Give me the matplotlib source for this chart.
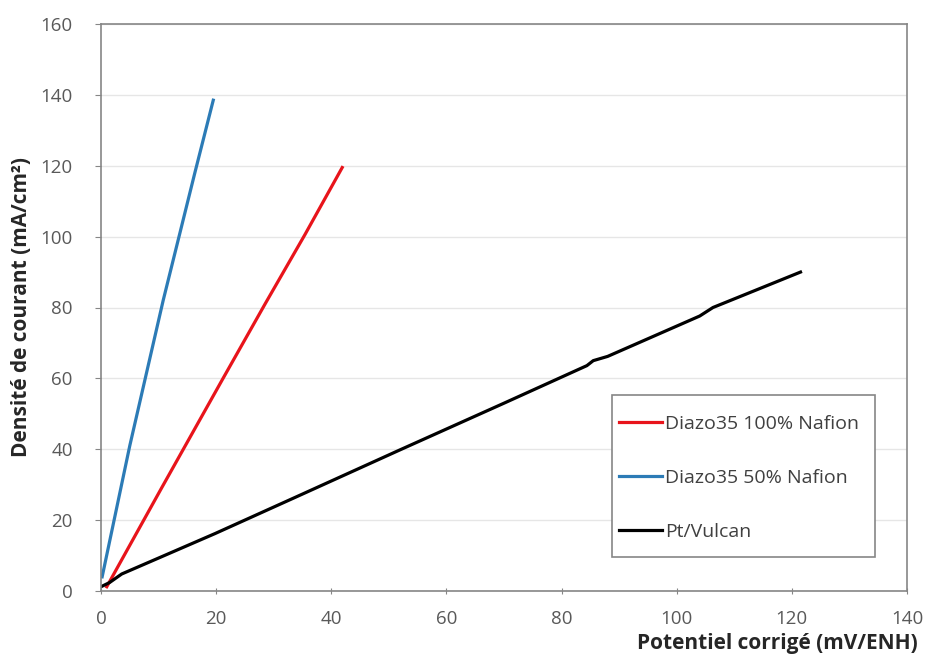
import matplotlib
matplotlib.use("Agg")
import matplotlib.pyplot as plt
from matplotlib.patches import Rectangle

# potentiel corrigé (mV/ENH) vs densité de courant (mA/cm²)
pt_x = [0.0, 1.5, 3.6, 10.0, 19.8, 33.7, 51.9, 70.0, 84.4, 85.5, 88.0, 104.0, 106.3, 121.5]
pt_y = [1.2, 2.4, 4.8, 9.3, 16.2, 26.4, 39.8, 53.0, 63.6, 65.0, 66.2, 77.6, 80.0, 90.0]

d100_x = [1.0, 10.5, 21.2, 28.5, 35.4, 41.9]
d100_y = [1.2, 29.0, 60.0, 81.0, 100.5, 119.5]

d50_x = [0.2, 5.0, 10.8, 16.3, 19.5]
d50_y = [4.0, 41.0, 82.0, 118.0, 138.5]

labels = ["Diazo35 100% Nafion", "Diazo35 50% Nafion", "Pt/Vulcan"]
x_ticks = list(range(0, 141, 20))
y_ticks = list(range(0, 161, 20))

W, H = 926, 662
plt.rcParams["font.family"] = ["Open Sans", "DejaVu Sans"]

fig = plt.figure(figsize=(W / 100, H / 100), dpi=100)
ax = fig.add_axes([101 / W, 1 - 591 / H, 806 / W, 567 / H])

ax.plot(d100_x, d100_y, color="#e8141b", lw=2.3, label=labels[0])
ax.plot(d50_x, d50_y, color="#2c7bb6", lw=2.3, label=labels[1])
ax.plot(pt_x, pt_y, color="black", lw=2.3, label=labels[2])

ax.set_xlim(0, 140)
ax.set_ylim(0, 160)
ax.set_xticks(x_ticks)
ax.set_yticks(y_ticks)
ax.yaxis.grid(True, color="#e6e6e6", lw=1)
ax.set_axisbelow(True)

for side in ["left", "bottom", "top", "right"]:
    ax.spines[side].set_color("#868686")
    ax.spines[side].set_linewidth(1.2)

ax.tick_params(axis="y", direction="out", length=4.3, color="#868686",
               labelsize=13.5, labelcolor="#595959", pad=16)
ax.tick_params(axis="x", direction="inout", length=5, color="#868686",
               labelsize=13.5, labelcolor="#595959", pad=11)

fig.text(22 / W, 1 - 307 / H, "Densité de courant (mA/cm²)", rotation=90,
         ha="center", va="center", fontsize=15, fontweight="bold", color="#262626")
fig.text(918 / W, 1 - 649 / H, "Potentiel corrigé (mV/ENH)", ha="right", va="baseline",
         fontsize=15, fontweight="bold", color="#262626")

# legend frame as in the original (tight on the left, roomy top and bottom)
ax.add_patch(Rectangle((612 / W, 1 - 557 / H), 263 / W, 162 / H, transform=fig.transFigure,
                       facecolor="white", edgecolor="#868686", lw=1.2, zorder=4))
leg = ax.legend(loc="upper left", bbox_to_anchor=(619 / W, 1 - 415 / H),
                bbox_transform=fig.transFigure, borderaxespad=0, borderpad=0,
                fontsize=14, labelspacing=1.85, handlelength=2.2,
                handletextpad=0.15, frameon=False)
leg.set_zorder(5)
for t in leg.get_texts():
    t.set_color("#404040")

fig.savefig("out.png", dpi=100)
